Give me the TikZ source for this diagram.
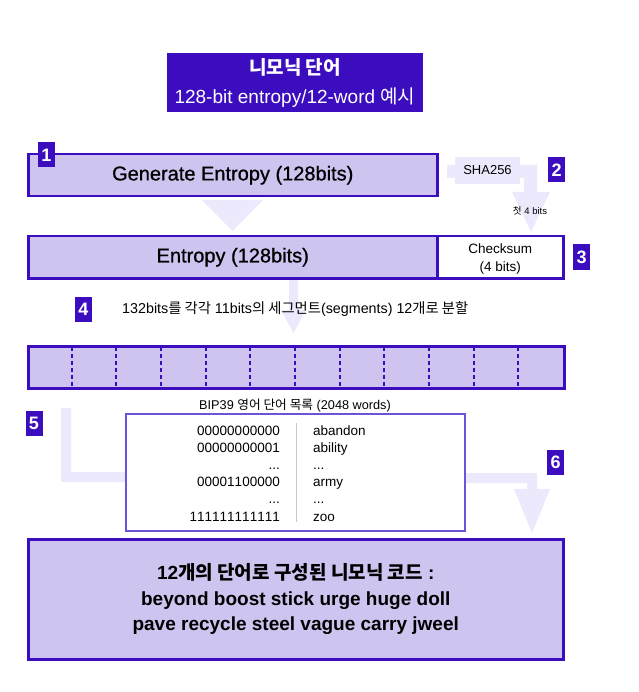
\documentclass[tikz,border=0pt]{standalone}
\usepackage{fontspec}
\usetikzlibrary{calc}
\setmainfont{Liberation Sans}
\newfontfamily\kr{Noto Sans CJK KR}
\newfontfamily\medfont[FakeBold=0.8]{Liberation Sans}
\newfontfamily\nokern[Kerning=Off]{Liberation Sans}
\newcommand\K[1]{{\kr #1}}
\definecolor{ink}{HTML}{3B0DBF}
\definecolor{lav}{HTML}{CFC4EF}
\definecolor{pale}{HTML}{EDE9FD}
\definecolor{tblline}{HTML}{6F52DA}
\definecolor{divgray}{HTML}{C8C8C8}
\tikzset{
  box/.style={draw=ink, fill=lav, line width=2.5pt, inner sep=0pt, anchor=north west},
  numtag/.style={fill=ink, text=white, font=\fontsize{18}{18}\selectfont\bfseries,
    minimum width=17pt, minimum height=25pt, inner sep=0pt},
  blockarrow/.style={fill=pale, draw=none},
  cell/.style={inner sep=0pt, font=\fontsize{13.5}{13.5}\selectfont\nokern},
  segdiv/.style={draw=ink, line width=2pt, dash pattern=on 4pt off 3pt},
}
\begin{document}
\begin{tikzpicture}[x=1pt,y=-1pt]
\useasboundingbox (0,0) rectangle (638,692);
\fill[white] (0,0) rectangle (638,692);

% title
\node[fill=ink, text=white, minimum width=256pt, minimum height=59pt, inner sep=0pt,
  align=center, font=\fontsize{19}{29}\selectfont] (title) at (295,82.5)
  {{\kr\bfseries 니모닉 단어}\\128-bit entropy/12-word \K{예시}};

% block arrows (drawn first)
\fill[blockarrow] (447,165) -- (537,165) -- (537,192) -- (550,192) -- (531,232)
  -- (512,192) -- (524,192) -- (524,178) -- (447,178) -- cycle;
\fill[blockarrow] (202,200) -- (263,200) -- (232.5,231) -- cycle;
\fill[blockarrow] (289,280) -- (298,280) -- (298,310) -- (306,310) -- (293.5,333)
  -- (281,310) -- (289,310) -- cycle;
\fill[blockarrow] (61,408) -- (71,408) -- (71,472) -- (130,472) -- (130,482) -- (61,482) -- cycle;
\fill[blockarrow] (460,473) -- (537,473) -- (537,489) -- (550,489) -- (532,533)
  -- (514,489) -- (527,489) -- (527,483) -- (460,483) -- cycle;

% step 1
\node[box, minimum width=409pt, minimum height=42pt, font=\fontsize{20}{20}\selectfont\medfont]
  (gen) at (27,153) {Generate Entropy (128bits)};
\node[numtag] (n1) at (46.5,155) {1};

% SHA256
\node[fill=pale, minimum width=65pt, minimum height=27pt, inner sep=0pt,
  font=\fontsize{13}{13}\selectfont] (sha) at (487.5,170.5) {SHA256};
\node[numtag] (n2) at (556.5,170) {2};
\node[inner sep=0pt, font=\fontsize{9.5}{9.5}\selectfont] (first) at (530,211) {\K{첫} 4 bits};

% step 3
\node[box, minimum width=409pt, minimum height=42pt, font=\fontsize{20}{20}\selectfont\medfont]
  (ent) at (27,235) {Entropy (128bits)};
\node[draw=ink, fill=white, line width=2.5pt, inner sep=0pt, anchor=north west,
  minimum width=126pt, minimum height=42pt, align=center, text depth=0pt,
  font=\fontsize{13.5}{18}\selectfont] (chk) at (436,235) {Checksum\\(4 bits)};
\node[numtag] (n3) at (581.5,257) {3};

% step 4
\node[numtag] (n4) at (83.5,309) {4};
\node[inner sep=0pt, anchor=west, font=\fontsize{14.3}{14.3}\selectfont] (split) at (122,309)
  {132bits\K{를 각각} 11bits\K{의 세그먼트}(segments) 12\K{개로 분할}};

% segment bar
\node[box, line width=3pt, minimum width=536pt, minimum height=42pt] (seg) at (27,345) {};
\foreach \i in {1,...,11} {
  \draw[segdiv] ($(seg.north west)+(\i*44.667,1.5)$) -- ($(seg.south west)+(\i*44.667,-1.5)$);
}

% step 5
\node[numtag] (n5) at (34,423) {5};
\node[inner sep=0pt, font=\fontsize{12.7}{12.7}\selectfont] (tbltitle) at (295,406)
  {BIP39 \K{영어 단어 목록} (2048 words)};
\node[draw=tblline, fill=white, line width=1.5pt, inner sep=0pt, anchor=north west,
  minimum width=339pt, minimum height=117pt] (tbl) at (125,413) {};
\draw[divgray, line width=1pt] (296,423) -- (296,522);
\node[cell, anchor=base east] (b1) at (280,435) {00000000000};
\node[cell, anchor=base east] (b2) at (280,452.2) {00000000001};
\node[cell, anchor=base east] (b3) at (280,469.4) {...};
\node[cell, anchor=base east] (b4) at (280,486.6) {00001100000};
\node[cell, anchor=base east] (b5) at (280,503.8) {...};
\node[cell, anchor=base east] (b6) at (280,521) {111111111111};
\node[cell, anchor=base west] (w1) at (313,435) {abandon};
\node[cell, anchor=base west] (w2) at (313,452.2) {ability};
\node[cell, anchor=base west] (w3) at (313,469.4) {...};
\node[cell, anchor=base west] (w4) at (313,486.6) {army};
\node[cell, anchor=base west] (w5) at (313,503.8) {...};
\node[cell, anchor=base west] (w6) at (313,521) {zoo};

% step 6
\node[numtag] (n6) at (555.5,462) {6};
\node[box, minimum width=535pt, minimum height=120pt, align=center,
  font=\fontsize{19}{25.5}\selectfont\bfseries] (final) at (27,538)
  {12{\kr\bfseries 개의 단어로 구성된 니모닉 코드} :\\beyond boost stick urge huge doll\\pave recycle steel vague carry jweel};
\end{tikzpicture}
\end{document}
